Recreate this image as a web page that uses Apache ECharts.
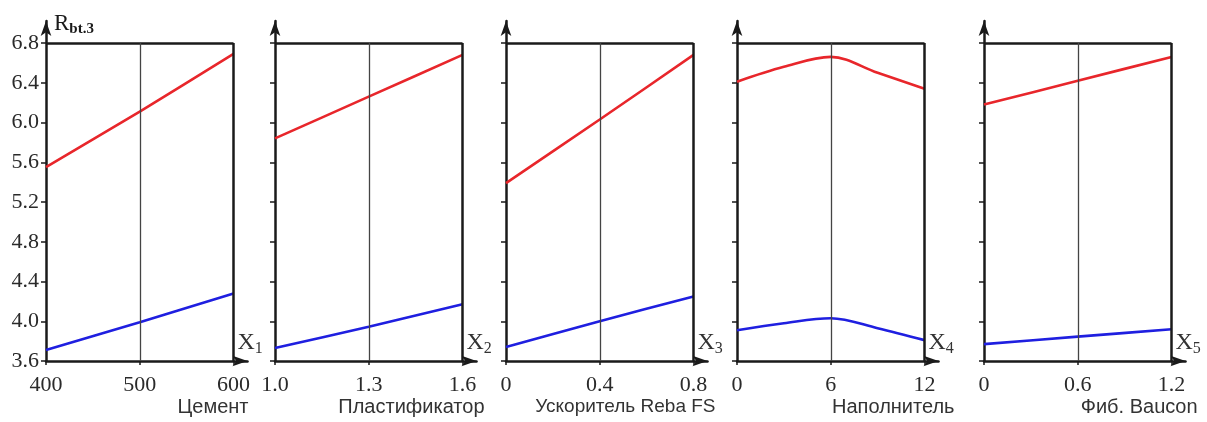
<!DOCTYPE html>
<html>
<head>
<meta charset="utf-8">
<title>Rbt.3</title>
<script src="https://cdn.jsdelivr.net/npm/echarts@6.0.0/dist/echarts.min.js"></script>
<style>
  html, body { margin: 0; padding: 0; background: #fff; }
  #chart { width: 1207px; height: 422px; }
</style>
</head>
<body>
<div id="chart"></div>
<script>
  // подписи факторов под панелями
  const factorNames = ['Цемент', 'Пластификатор', 'Ускоритель Reba FS', 'Наполнитель', 'Фиб. Baucon'];
  const xTicks = [[400, 500, 600], [1.0, 1.3, 1.6], [0, 0.4, 0.8], [0, 6, 12], [0, 0.6, 1.2]];
  const xTickLabels = [['400', '500', '600'], ['1.0', '1.3', '1.6'], ['0', '0.4', '0.8'], ['0', '6', '12'], ['0', '0.6', '1.2']];
  const yTicks = [3.6, 4.0, 4.4, 4.8, 5.2, 5.6, 6.0, 6.4, 6.8];
  const yTickLabels = ['3.6', '4.0', '4.4', '4.8', '5.2', '5.6', '6.0', '6.4', '6.8'];

  // верхняя кривая (красная)
  const red1 = [[400, 5.55], [500, 6.11], [600, 6.69]];
  const red2 = [[1.0, 5.84], [1.3, 6.26], [1.6, 6.68]];
  const red3 = [[0, 5.39], [0.4, 6.03], [0.8, 6.68]];
  const red4 = [[0, 6.41], [3, 6.56], [6, 6.66], [9, 6.5], [12, 6.34]];
  const red5 = [[0, 6.18], [0.6, 6.42], [1.2, 6.66]];
  // нижняя кривая (синяя)
  const blue1 = [[400, 3.71], [500, 3.99], [600, 4.28]];
  const blue2 = [[1.0, 3.73], [1.3, 3.945], [1.6, 4.17]];
  const blue3 = [[0, 3.74], [0.4, 4.0], [0.8, 4.25]];
  const blue4 = [[0, 3.91], [3, 3.98], [6, 4.03], [9, 3.93], [12, 3.81]];
  const blue5 = [[0, 3.77], [0.6, 3.845], [1.2, 3.92]];

  const redLines = [red1, red2, red3, red4, red5];
  const blueLines = [blue1, blue2, blue3, blue4, blue5];

  const gridLefts = [46, 275, 506, 737, 984];
  const plotW = 187.5;   // от оси Y до правой рамки
  const arrowExt = 14;   // продолжение оси X за рамку
  const yTop = 6.8;
  const yMin = 3.6;
  const yMax = yTop + (yTop - yMin) * 22 / 318;

  const serif = '"Liberation Serif", "Times New Roman", serif';
  const sans = '"Liberation Sans", Arial, sans-serif';
  const ink = '#1a1a1a';

  const grid = [], xAxis = [], yAxis = [], series = [], graphic = [];

  for (let i = 0; i < 5; i++) {
    const t = xTicks[i];
    const range = t[2] - t[0];
    grid.push({ left: gridLefts[i], top: 21, width: plotW + arrowExt, bottom: 61 });

    xAxis.push({
      type: 'value', gridIndex: i,
      min: t[0], max: t[2] + range * arrowExt / plotW,
      name: '{x|X}{s|' + (i + 1) + '}',
      nameLocation: 'end', nameGap: -10,
      nameTextStyle: {
        verticalAlign: 'bottom', align: 'left', padding: [0, 0, 6, 0],
        rich: {
          x: { fontFamily: serif, fontSize: 24, color: '#333', lineHeight: 24, verticalAlign: 'top' },
          s: { fontFamily: serif, fontSize: 16, color: '#333', lineHeight: 16, verticalAlign: 'top', padding: [10, 0, 0, 0] }
        }
      },
      splitLine: { show: false },
      axisLine: { lineStyle: { color: ink, width: 2.5 }, symbol: ['none', 'arrow'], symbolSize: [8, 15] },
      axisTick: { customValues: t, length: 4, lineStyle: { color: ink, width: 1.5 } },
      axisLabel: {
        customValues: t, margin: 13,
        formatter: function (v) {
          const k = t.findIndex(function (a) { return Math.abs(a - v) < 1e-9; });
          return k >= 0 ? xTickLabels[i][k] : '';
        },
        fontFamily: serif, fontSize: 22, color: '#2a2a2a'
      }
    });

    yAxis.push({
      type: 'value', gridIndex: i,
      min: yMin, max: yMax, interval: 0.4,
      name: i === 0 ? '{r|R}{s|bt.3}' : '',
      nameLocation: 'end', nameGap: -3,
      nameTextStyle: {
        align: 'left', verticalAlign: 'middle', padding: [0, 0, 0, 8],
        rich: {
          r: { fontFamily: serif, fontSize: 23, color: ink, lineHeight: 23, verticalAlign: 'top' },
          s: { fontFamily: serif, fontSize: 15, fontWeight: 'bold', color: ink, lineHeight: 15, verticalAlign: 'top', padding: [9, 0, 0, 0] }
        }
      },
      splitLine: { show: false },
      axisLine: { lineStyle: { color: ink, width: 2.5 }, symbol: ['none', 'arrow'], symbolSize: [8, 15] },
      axisTick: { customValues: yTicks, length: 5, lineStyle: { color: ink, width: 1.5 } },
      axisLabel: {
        show: i === 0, customValues: yTicks, margin: 7,
        formatter: function (v) {
          const k = yTicks.findIndex(function (a) { return Math.abs(a - v) < 1e-9; });
          return k >= 0 ? yTickLabels[k] : '';
        },
        fontFamily: serif, fontSize: 22, color: '#2a2a2a'
      }
    });

    const frame = { color: ink, width: 2.5, type: 'solid' };
    series.push({
      type: 'line', xAxisIndex: i, yAxisIndex: i,
      data: redLines[i], showSymbol: false, smooth: i === 3 ? 0.35 : 0.2,
      lineStyle: { color: '#e8262b', width: 2.6 }, z: 3,
      markLine: {
        silent: true, symbol: ['none', 'none'], label: { show: false }, animation: false,
        data: [
          [{ coord: [t[0], yTop], lineStyle: frame }, { coord: [t[2], yTop] }],
          [{ coord: [t[2], yMin], lineStyle: frame }, { coord: [t[2], yTop] }],
          [{ coord: [t[1], yMin], lineStyle: { color: '#444', width: 1.3, type: 'solid' } }, { coord: [t[1], yTop] }]
        ]
      }
    });
    series.push({
      type: 'line', xAxisIndex: i, yAxisIndex: i,
      data: blueLines[i], showSymbol: false, smooth: i === 3 ? 0.35 : 0.2,
      lineStyle: { color: '#1f1fe0', width: 2.6 }, z: 3
    });

    graphic.push({
      type: 'text',
      x: gridLefts[i] + plotW + [15, 22, 22, 30, 26][i],
      y: 407,
      style: {
        text: factorNames[i], font: (i === 2 ? '19px ' : '20px ') + sans,
        fill: '#333', align: 'right', verticalAlign: 'middle'
      }
    });
  }

  const chart = echarts.init(document.getElementById('chart'));
  chart.setOption({
    animation: false,
    backgroundColor: '#fff',
    grid: grid, xAxis: xAxis, yAxis: yAxis, series: series, graphic: graphic
  });
</script>
</body>
</html>
